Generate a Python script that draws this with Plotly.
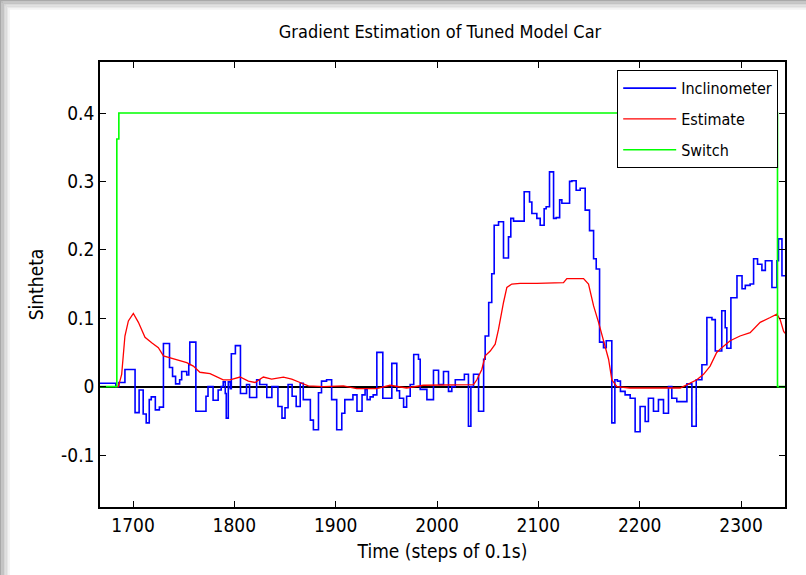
import plotly.graph_objects as go

# ---------------- data ----------------
# Inclinometer (stairs): step start times and values
incl_t = [1667, 1683, 1686, 1692, 1702, 1706, 1710, 1713, 1716, 1718, 1722, 1726, 1730, 1736, 1739,
          1742, 1746, 1748, 1753, 1755, 1756, 1762, 1772, 1774, 1779, 1784, 1787, 1789, 1791, 1792,
          1794, 1796, 1797, 1801, 1806, 1812, 1815, 1822, 1825, 1832, 1837, 1843, 1847, 1850, 1853,
          1857, 1861, 1865, 1868, 1875, 1878, 1883, 1886, 1891, 1896, 1901, 1906, 1909, 1917, 1921,
          1926, 1929, 1931, 1934, 1937, 1940.6, 1946.5, 1955.4, 1960.3, 1963, 1967, 1970, 1973.5,
          1977, 1981.7, 1983.4, 1990, 1996.5, 2001.5, 2006.4, 2011.3, 2014.6, 2018, 2027, 2031,
          2033.4, 2036, 2041, 2046, 2047.5, 2051, 2054, 2056.4, 2060.7, 2065.6, 2070.5, 2072.8,
          2075.5, 2086, 2091.3, 2093.6, 2098.5, 2101.8, 2105.7, 2107.7, 2111, 2115, 2117.6, 2121,
          2123.2, 2130.8, 2133.1, 2137.3, 2141.3, 2146.2, 2150.5, 2154.5, 2157.1, 2160.4, 2164.3,
          2167, 2172.5, 2175.5, 2178, 2181, 2185.6, 2190.6, 2195.5, 2200.4, 2205.4, 2208.6, 2213.6,
          2218.5, 2223.5, 2228.4, 2231.7, 2236.6, 2246.6, 2251.5, 2255.8, 2261.4, 2266.3, 2271.3,
          2274.6, 2281, 2284.4, 2286, 2290, 2296, 2301, 2304.2, 2309, 2312.4, 2316.3, 2320.6, 2324,
          2330.5, 2335.4, 2337, 2340.4, 2343.4]
incl_v = [0.005, 0.000, 0.006, 0.025, -0.038, -0.005, -0.040, -0.053, -0.019, -0.015, -0.034, -0.030,
          0.063, 0.028, 0.015, 0.004, 0.010, 0.022, 0.017, 0.032, 0.065, -0.036, -0.014, 0.000, -0.020,
          -0.005, 0.000, 0.007, -0.010, -0.046, 0.007, -0.003, 0.048, 0.060, -0.010, 0.003, -0.016,
          0.010, 0.003, -0.016, 0.000, -0.029, -0.046, -0.031, 0.003, -0.014, -0.029, 0.005, -0.019,
          -0.049, -0.063, -0.009, 0.008, 0.010, -0.019, -0.063, -0.039, -0.019, -0.012, -0.036,
          -0.012, -0.004, -0.019, -0.015, -0.012, 0.050, -0.017, 0.034, -0.006, -0.017, -0.030,
          -0.014, 0.003, 0.047, 0.040, -0.004, -0.019, 0.024, 0.003, 0.022, -0.007, 0.000, 0.010,
          0.018, -0.058, 0.000, 0.018, -0.036, 0.040, 0.074, 0.123, 0.165, 0.236, 0.241, 0.188,
          0.219, 0.246, 0.242, 0.285, 0.270, 0.253, 0.246, 0.236, 0.260, 0.263, 0.314, 0.246, 0.247,
          0.273, 0.268, 0.300, 0.301, 0.287, 0.290, 0.258, 0.228, 0.187, 0.172, 0.065, 0.057, 0.067,
          -0.053, 0.010, 0.008, -0.007, -0.012, -0.017, -0.066, -0.029, -0.051, -0.017, -0.036,
          -0.019, -0.039, 0.000, -0.017, -0.022, 0.004, -0.058, 0.010, 0.032, 0.101, 0.098, 0.052,
          0.111, 0.086, 0.056, 0.130, 0.162, 0.143, 0.148, 0.150, 0.187, 0.179, 0.170, 0.184, 0.145,
          0.184, 0.216, 0.162, 0.162]

# Estimate
est_t = [1684, 1685.5, 1688.8, 1692, 1695.4, 1700.3, 1705.3, 1711.8, 1718.4, 1725, 1730, 1736.5, 1743,
         1753, 1759.5, 1766, 1776, 1782.6, 1789, 1795.7, 1805.6, 1813.8, 1820.4, 1828.6, 1836.8,
         1848.4, 1856.6, 1864.8, 1873, 1887.8, 1907.6, 1920.7, 1940.5, 1953.6, 1970, 1986.5, 2011,
         2036, 2039.3, 2044.2, 2047.5, 2052.5, 2057.4, 2060.7, 2065.6, 2068.9, 2073.8, 2082, 2098.5,
         2124.8, 2128.1, 2144.6, 2149.5, 2154.5, 2159.4, 2164.3, 2169.3, 2172.5, 2177.5, 2190, 2240,
         2249.8, 2256.4, 2263, 2269.5, 2276, 2281, 2289.3, 2299, 2309, 2318.9, 2328.8, 2335.4,
         2338.6, 2342, 2343.4]
est_v = [0.0, 0.0, 0.018, 0.074, 0.096, 0.107, 0.094, 0.072, 0.064, 0.057, 0.045, 0.042, 0.039, 0.035,
         0.030, 0.021, 0.019, 0.015, 0.010, 0.010, 0.014, 0.008, 0.006, 0.014, 0.011, 0.014, 0.011,
         0.006, 0.001, 0.000, 0.001, -0.003, -0.003, 0.002, -0.002, 0.002, 0.002, 0.003, 0.010, 0.025,
         0.045, 0.052, 0.062, 0.084, 0.123, 0.145, 0.150, 0.151, 0.151, 0.152, 0.158, 0.158, 0.150,
         0.118, 0.094, 0.067, 0.040, 0.010, 0.000, -0.002, -0.002, 0.005, 0.010, 0.018, 0.030, 0.050,
         0.057, 0.067, 0.074, 0.079, 0.094, 0.101, 0.106, 0.098, 0.081, 0.078]

# Switch (stairs)
sw_t = [1667, 1684, 1686, 2336, 2343.4]
sw_v = [0.0, 0.362, 0.4, 0.0, 0.0]

x_ticks = [1700, 1800, 1900, 2000, 2100, 2200, 2300]
y_ticks = [-0.1, 0, 0.1, 0.2, 0.3, 0.4]
y_ticklabels = ["-0.1", "0", "0.1", "0.2", "0.3", "0.4"]
x_range = [1667.4, 2343.4]
y_range = [-0.176, 0.4746]

FONT = "Liberation Sans Narrow, DejaVu Sans Condensed, Arial Narrow, sans-serif"

fig = go.Figure()
fig.add_trace(go.Scatter(x=incl_t, y=incl_v, mode="lines", name="Inclinometer",
                         line=dict(color="#0000ff", width=1.6, shape="hv"), legendgroup="a"))
fig.add_trace(go.Scatter(x=est_t, y=est_v, mode="lines", name="Estimate",
                         line=dict(color="#ff0000", width=1.3), legendgroup="b"))
fig.add_trace(go.Scatter(x=sw_t, y=sw_v, mode="lines", name="Switch",
                         line=dict(color="#00ff00", width=1.6, shape="hv"), legendgroup="c"))

W, H = 806, 575
L, R, T, B = 100, 21, 62, 68
pw, ph = W - L - R, H - T - B


def px2x(px):
    return (px - L) / pw


def py2y(py):
    return (H - B - py) / ph


# soft grey drop-shadow frame (decorative)
shapes = []
greys = ["#a9a9a9", "#b6b6b6", "#c3c3c3", "#d0d0d0", "#dcdcdc", "#e8e8e8", "#f3f3f3"]
for i, g in enumerate(greys):
    shapes.append(dict(type="rect", xref="paper", yref="paper", x0=px2x(i * 1.4), x1=px2x(W),
                       y0=py2y((i + 1) * 1.4), y1=py2y(i * 1.4), fillcolor=g, line=dict(width=0),
                       layer="below"))
    shapes.append(dict(type="rect", xref="paper", yref="paper", x0=px2x(i * 1.4), x1=px2x((i + 1) * 1.4),
                       y0=py2y(H), y1=py2y(i * 1.4), fillcolor=g, line=dict(width=0), layer="below"))

fig.update_layout(
    width=W, height=H,
    margin=dict(l=L, r=R, t=T, b=B),
    paper_bgcolor="#ffffff", plot_bgcolor="#ffffff",
    font=dict(family=FONT, size=18, color="#000000"),
    title=dict(text="Gradient Estimation of Tuned Model Car", x=(440 / W), xanchor="center",
               y=1 - 32 / H, yanchor="middle", font=dict(family=FONT, size=18, color="#000")),
    shapes=shapes,
    showlegend=True,
    legend=dict(x=px2x(617), xanchor="left", y=py2y(70), yanchor="top",
                bgcolor="#ffffff", bordercolor="#000000", borderwidth=1.2,
                font=dict(family=FONT, size=16, color="#000"), tracegroupgap=7,
                itemwidth=53),
)
fig.update_xaxes(range=x_range, tickvals=x_ticks, ticktext=[str(v) for v in x_ticks],
                 showgrid=False, zeroline=False, showline=True, linecolor="#000", linewidth=1.5,
                 mirror="ticks", ticks="inside", ticklen=6, tickwidth=1.3, tickcolor="#000",
                 tickfont=dict(family=FONT, size=19),
                 title=dict(text="Time (steps of 0.1s)", standoff=10,
                            font=dict(family=FONT, size=19)))
fig.update_yaxes(range=y_range, tickvals=y_ticks, ticktext=y_ticklabels,
                 showgrid=False, zeroline=True, zerolinecolor="#000", zerolinewidth=1.5,
                 showline=True, linecolor="#000", linewidth=1.5,
                 mirror="ticks", ticks="inside", ticklen=6, tickwidth=1.3, tickcolor="#000",
                 tickfont=dict(family=FONT, size=19),
                 title=dict(text="Sintheta", standoff=12, font=dict(family=FONT, size=19)))

fig.write_html("out.html", config={"displayModeBar": False},
               post_script="document.body.style.margin='0px';")
